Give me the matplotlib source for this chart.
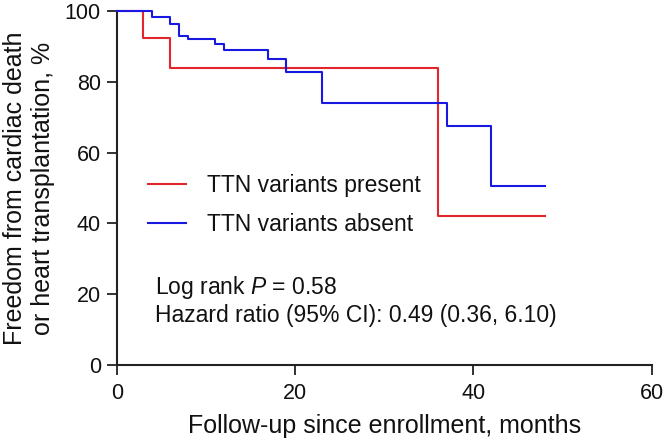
import matplotlib

matplotlib.use("Agg")
import matplotlib.pyplot as plt

plt.rcParams["font.family"] = ["Liberation Sans", "DejaVu Sans"]
plt.rcParams["mathtext.fontset"] = "custom"
plt.rcParams["mathtext.rm"] = "Liberation Sans"
plt.rcParams["mathtext.it"] = "Liberation Sans:italic"

# Kaplan-Meier steps (months, % event-free)
present_t = [0, 3, 6, 36, 48]
present_s = [100, 92.3, 83.9, 42.1, 42.1]
absent_t = [0, 4, 6, 7, 8, 11, 12, 17, 19, 23, 37, 42, 48]
absent_s = [100, 98.4, 96.3, 93.0, 92.0, 90.7, 88.9, 86.4, 82.7, 74.0, 67.5, 50.7, 50.7]

labels = ["TTN variants present", "TTN variants absent"]
x_ticks = [0, 20, 40, 60]
y_ticks = [0, 20, 40, 60, 80, 100]

RED = "#e3262b"
BLUE = "#1818e0"
INK = "#111111"
TICK_FS = 15.5
TEXT_FS = 16.5
LABEL_FS = 18

fig = plt.figure(figsize=(6.64, 4.41), dpi=100)
ax = fig.add_axes([0.1758, 0.1723, 0.8057, 0.8027])

ax.step(present_t, present_s, where="post", color=RED, lw=1.5,
        label=labels[0], clip_on=False, zorder=3)
ax.step(absent_t, absent_s, where="post", color=BLUE, lw=1.5,
        label=labels[1], clip_on=False, zorder=4)

ax.set_xlim(0, 60)
ax.set_ylim(0, 100)
ax.set_xticks(x_ticks)
ax.set_yticks(y_ticks)
for side in ("top", "right"):
    ax.spines[side].set_visible(False)
for side in ("left", "bottom"):
    ax.spines[side].set_linewidth(1.5)
    ax.spines[side].set_color("#222222")
ax.tick_params(direction="out", length=7, width=1.3, color="#222222",
               labelsize=TICK_FS, labelcolor=INK)
ax.tick_params(axis="x", pad=6)
ax.tick_params(axis="y", pad=4.5)

ax.set_xlabel("Follow-up since enrollment, months", fontsize=LABEL_FS,
              color=INK, labelpad=7)
ax.set_ylabel("Freedom from cardiac death\nor heart transplantation, %",
              fontsize=LABEL_FS, color=INK, labelpad=7)

ax.legend(loc="center left", bbox_to_anchor=(3.5, 45.2),
          bbox_transform=ax.transData, frameon=False, fontsize=TEXT_FS,
          handlelength=1.66, handletextpad=0.9, labelspacing=0.68,
          borderpad=0, borderaxespad=0, labelcolor=INK)

ax.text(4.3, 22.0, r"Log rank $P$ = 0.58", fontsize=TEXT_FS, color=INK,
        va="center", ha="left")
ax.text(4.3, 14.1, "Hazard ratio (95% CI): 0.49 (0.36, 6.10)",
        fontsize=TEXT_FS, color=INK, va="center", ha="left")

fig.savefig("out.png", dpi=100)
